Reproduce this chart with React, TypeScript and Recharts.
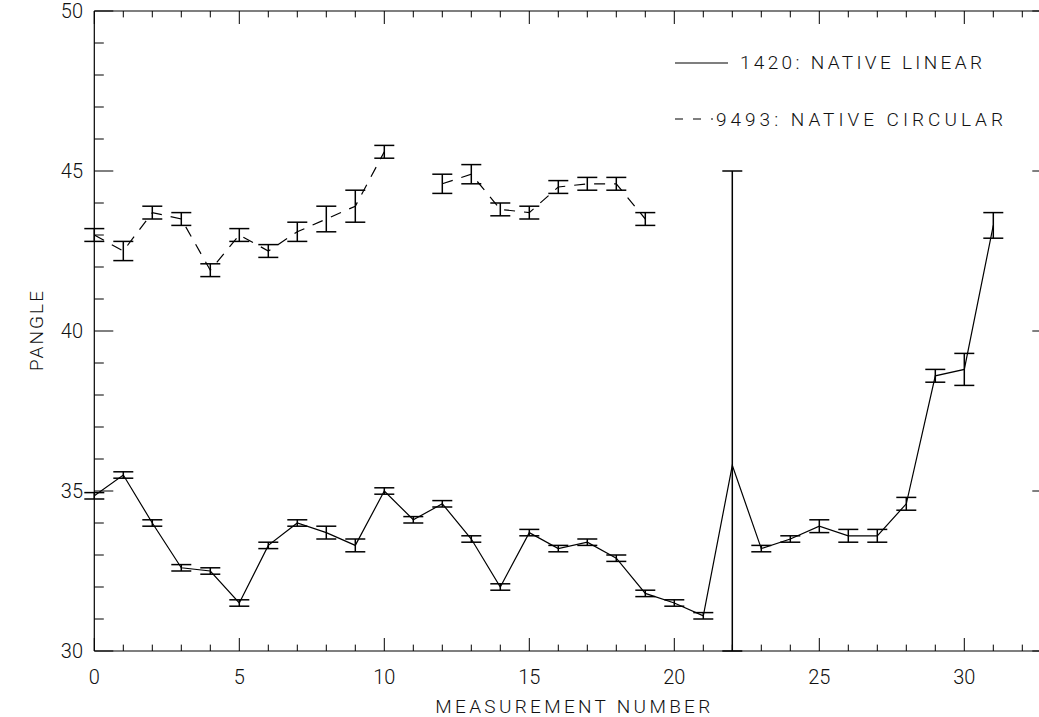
import React from 'react';
import { LineChart, Line, XAxis, YAxis, ErrorBar, Legend } from 'recharts';

// measurement index
const measurement = [
  0, 1, 2, 3, 4, 5, 6, 7, 8, 9, 10, 11, 12, 13, 14, 15,
  16, 17, 18, 19, 20, 21, 22, 23, 24, 25, 26, 27, 28, 29, 30, 31,
];

// 1420: native linear
const linearAngle = [
  34.85, 35.5, 34.0, 32.6, 32.5, 31.5, 33.3, 34.0, 33.7, 33.3, 35.0, 34.1, 34.6, 33.5, 32.0, 33.7,
  33.2, 33.4, 32.9, 31.8, 31.5, 31.1, 35.8, 33.2, 33.5, 33.9, 33.6, 33.6, 34.6, 38.6, 38.8, 43.3,
];
const linearErr = [
  0.1, 0.1, 0.1, 0.1, 0.1, 0.1, 0.1, 0.1, 0.2, 0.2, 0.1, 0.1, 0.1, 0.1, 0.1, 0.1,
  0.1, 0.1, 0.1, 0.1, 0.1, 0.1, 9.2, 0.1, 0.1, 0.2, 0.2, 0.2, 0.2, 0.2, 0.5, 0.4,
];

// 9493: native circular
const circularAngle = [
  43.0, 42.5, 43.7, 43.5, 41.9, 43.0, 42.5, 43.1, 43.5, 43.9, 45.6, null, 44.6, 44.9, 43.8, 43.7,
  44.5, 44.6, 44.6, 43.5, null, null, null, null, null, null, null, null, null, null, null, null,
];
const circularErr = [
  0.2, 0.3, 0.2, 0.2, 0.2, 0.2, 0.2, 0.3, 0.4, 0.5, 0.2, null, 0.3, 0.3, 0.2, 0.2,
  0.2, 0.2, 0.2, 0.2, null, null, null, null, null, null, null, null, null, null, null, null,
];

const xTicks = Array.from({ length: 34 }, (_, i) => i);
const yTicks = Array.from({ length: 21 }, (_, i) => 30 + i);
const Y_MIN = 30;
const Y_MAX = 50;

// error bars are clipped at the plot edges like the original IDL plot
const clipErr = (v: number | null, e: number | null) =>
  v == null || e == null ? null : [Math.min(e, v - Y_MIN), Math.min(e, Y_MAX - v)];

const rows = measurement.map((m, i) => ({
  m,
  lin: linearAngle[i],
  linErr: clipErr(linearAngle[i], linearErr[i]),
  circ: circularAngle[i],
  circErr: clipErr(circularAngle[i], circularErr[i]),
}));

// plot box (IDL style frame)
const BOX = { left: 94.3, right: 1051.3, top: 11, bottom: 651 };
const FONT = 'Roboto, "DejaVu Sans", sans-serif';
const INK = '#111';

const BottomTick = (p: any) => {
  const v = p.payload.value;
  const major = v % 5 === 0;
  const x = p.x;
  return (
    <g>
      <line x1={x} x2={x} y1={BOX.bottom} y2={BOX.bottom - (major ? 13 : 6.4)} stroke="#000" strokeWidth={1} />
      {major && (
        <text x={x} y={684} textAnchor="middle" fontFamily={FONT} fontWeight={300} fontSize={20} fill={INK}>
          {v}
        </text>
      )}
    </g>
  );
};

const TopTick = (p: any) => {
  const major = p.payload.value % 5 === 0;
  return <line x1={p.x} x2={p.x} y1={BOX.top} y2={BOX.top + (major ? 13 : 6.4)} stroke="#000" strokeWidth={1} />;
};

const LeftTick = (p: any) => {
  const v = p.payload.value;
  const major = v % 5 === 0;
  const y = p.y;
  return (
    <g>
      <line x1={BOX.left} x2={BOX.left + (major ? 19 : 9.5)} y1={y} y2={y} stroke="#000" strokeWidth={1} />
      {major && (
        <text x={83} y={y + 7} textAnchor="end" fontFamily={FONT} fontWeight={300} fontSize={20} fill={INK}>
          {v}
        </text>
      )}
    </g>
  );
};

const RightTick = (p: any) => {
  const major = p.payload.value % 5 === 0;
  return <line x1={BOX.right} x2={BOX.right - (major ? 19 : 9.5)} y1={p.y} y2={p.y} stroke="#000" strokeWidth={1} />;
};

const LegendBox = () => (
  <svg width={380} height={110} style={{ display: 'block' }}>
    <line x1={15} y1={33} x2={68} y2={33} stroke="#000" strokeWidth={1.2} />
    <text x={80} y={39} textLength={242} lengthAdjust="spacing" fontFamily={FONT} fontWeight={300} fontSize={19} fill={INK}>
      1420: NATIVE LINEAR
    </text>
    <line x1={15} y1={89} x2={53} y2={89} stroke="#000" strokeWidth={1.2} strokeDasharray="8 10" />
    <text x={56} y={96} textLength={287} lengthAdjust="spacing" fontFamily={FONT} fontWeight={300} fontSize={19} fill={INK}>
      9493: NATIVE CIRCULAR
    </text>
  </svg>
);

export default function App() {
  return (
    <div style={{ position: 'absolute', left: 0, top: 0, width: 1039, height: 717, overflow: 'hidden', background: '#fff' }}>
      <LineChart
        width={1060}
        height={717}
        data={rows}
        margin={{ top: BOX.top - 1, right: 1060 - BOX.right - 1, bottom: 717 - BOX.bottom - 1, left: BOX.left - 1 }}
      >
        <XAxis
          xAxisId="bot"
          type="number"
          dataKey="m"
          domain={[0, 33]}
          allowDataOverflow
          ticks={xTicks}
          interval={0}
          height={1}
          tickSize={0}
          tickLine={false}
          axisLine={{ stroke: '#000', strokeWidth: 1.2 }}
          tick={BottomTick}
          label={{
            content: (p: any) => (
              <text
                x={p.viewBox.x + p.viewBox.width / 2}
                y={713}
                textAnchor="middle"
                textLength={275}
                lengthAdjust="spacing"
                fontFamily={FONT}
                fontWeight={300}
                fontSize={19}
                fill={INK}
              >
                MEASUREMENT NUMBER
              </text>
            ),
          }}
        />
        <XAxis
          xAxisId="top"
          orientation="top"
          type="number"
          dataKey="m"
          domain={[0, 33]}
          allowDataOverflow
          ticks={xTicks}
          interval={0}
          height={1}
          tickSize={0}
          tickLine={false}
          axisLine={{ stroke: '#000', strokeWidth: 1.2 }}
          tick={TopTick}
        />
        <YAxis
          yAxisId="left"
          type="number"
          domain={[Y_MIN, Y_MAX]}
          allowDataOverflow
          ticks={yTicks}
          interval={0}
          width={1}
          tickSize={0}
          tickLine={false}
          axisLine={{ stroke: '#000', strokeWidth: 1.2 }}
          tick={LeftTick}
          label={{
            content: (p: any) => {
              const cy = p.viewBox.y + p.viewBox.height / 2;
              return (
                <text
                  x={43}
                  y={cy}
                  transform={`rotate(-90 43 ${cy})`}
                  textAnchor="middle"
                  textLength={80}
                  lengthAdjust="spacing"
                  fontFamily={FONT}
                  fontWeight={300}
                  fontSize={19}
                  fill={INK}
                >
                  PANGLE
                </text>
              );
            },
          }}
        />
        <YAxis
          yAxisId="right"
          orientation="right"
          type="number"
          domain={[Y_MIN, Y_MAX]}
          allowDataOverflow
          ticks={yTicks}
          interval={0}
          width={1}
          tickSize={0}
          tickLine={false}
          axisLine={{ stroke: '#000', strokeWidth: 1.2 }}
          tick={RightTick}
        />

        <Line
          xAxisId="bot"
          yAxisId="left"
          type="linear"
          dataKey="lin"
          name="1420: NATIVE LINEAR"
          stroke="#000"
          strokeWidth={1.2}
          dot={false}
          isAnimationActive={false}
        >
          <ErrorBar dataKey="linErr" direction="y" width={10} stroke="#000" strokeWidth={1.5} isAnimationActive={false} />
        </Line>
        <Line
          xAxisId="bot"
          yAxisId="left"
          type="linear"
          dataKey="circ"
          name="9493: NATIVE CIRCULAR"
          stroke="#000"
          strokeWidth={1.2}
          strokeDasharray="11 9"
          dot={false}
          connectNulls={false}
          isAnimationActive={false}
        >
          <ErrorBar dataKey="circErr" direction="y" width={10} stroke="#000" strokeWidth={1.5} isAnimationActive={false} />
        </Line>
        <Legend
          layout="horizontal"
          verticalAlign="middle"
          align="center"
          content={LegendBox}
          wrapperStyle={{ position: 'absolute', left: 660, top: 30, width: 380, height: 110 }}
        />
      </LineChart>
    </div>
  );
}
